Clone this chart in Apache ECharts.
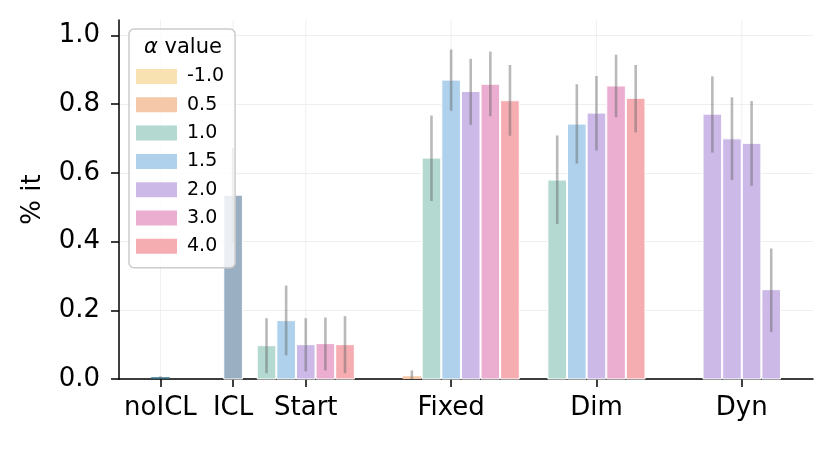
<!DOCTYPE html>
<html>
<head>
<meta charset="utf-8">
<script src="https://cdn.jsdelivr.net/npm/echarts@6/dist/echarts.min.js"></script>
<style>
html, body { margin: 0; padding: 0; background: #fff; }
#main { width: 832px; height: 476px; }
</style>
</head>
<body>
<div id="main"></div>
<script>
// groups on the x axis and where they sit
var groups = ['noICL', 'ICL', 'Start', 'Fixed', 'Dim', 'Dyn'];
var groupX = [0, 0.5, 1, 2, 3, 4];
var yTicks = [0, 0.2, 0.4, 0.6, 0.8, 1.0];

// alpha values (legend) and their colours
var alphas = ['-1.0', '0.5', '1.0', '1.5', '2.0', '3.0', '4.0'];
var alphaColors = ['#f8e2b2', '#f4c8a8', '#b4d9d0', '#afd1ec', '#cdb9e8', '#ebaed0', '#f5adb2'];

// baselines (not in legend)
var noiclMean = [0.005], noiclLow = [0.0], noiclHigh = [0.008];
var iclMean = [0.535], iclLow = [0.398], iclHigh = [0.672];

// per group: which alpha each bar belongs to, mean, error bar ends
var startAlpha = ['1.0', '1.5', '2.0', '3.0', '4.0'];
var startMean = [0.097, 0.170, 0.100, 0.103, 0.100];
var startLow = [0.017, 0.069, 0.022, 0.025, 0.017];
var startHigh = [0.177, 0.272, 0.177, 0.179, 0.183];

var fixedAlpha = ['-1.0', '0.5', '1.0', '1.5', '2.0', '3.0', '4.0'];
var fixedMean = [0.0, 0.008, 0.643, 0.870, 0.837, 0.858, 0.810];
var fixedLow = [0.0, 0.0, 0.518, 0.781, 0.740, 0.765, 0.708];
var fixedHigh = [0.0, 0.025, 0.767, 0.959, 0.932, 0.953, 0.914];

var dimAlpha = ['1.0', '1.5', '2.0', '3.0', '4.0'];
var dimMean = [0.579, 0.742, 0.774, 0.853, 0.817];
var dimLow = [0.451, 0.627, 0.665, 0.762, 0.718];
var dimHigh = [0.709, 0.858, 0.882, 0.944, 0.914];

var dynAlpha = ['2.0', '2.0', '2.0', '2.0'];
var dynMean = [0.771, 0.699, 0.686, 0.260];
var dynLow = [0.659, 0.579, 0.562, 0.137];
var dynHigh = [0.881, 0.820, 0.809, 0.380];

var BAR = 0.135; // bar step in x units
var YMAX = 1.045;

var groupBars = [
	{alpha: ['noICL'], mean: noiclMean, low: noiclLow, high: noiclHigh},
	{alpha: ['ICL'], mean: iclMean, low: iclLow, high: iclHigh},
	{alpha: startAlpha, mean: startMean, low: startLow, high: startHigh},
	{alpha: fixedAlpha, mean: fixedMean, low: fixedLow, high: fixedHigh},
	{alpha: dimAlpha, mean: dimMean, low: dimLow, high: dimHigh},
	{alpha: dynAlpha, mean: dynMean, low: dynLow, high: dynHigh}
];

// collect bars per series name
var barData = {};
var errData = [];
groupBars.forEach(function (g, gi) {
	var n = g.alpha.length;
	g.alpha.forEach(function (a, i) {
		var x = groupX[gi] + (i - (n - 1) / 2) * BAR;
		if (!barData[a]) barData[a] = [];
		barData[a].push([x, g.mean[i]]);
		errData.push([x, g.low[i], g.high[i]]);
	});
});

function barRender(params, api) {
	var x = api.value(0), y = api.value(1);
	var p0 = api.coord([x - BAR / 2, 0]);
	var p1 = api.coord([x + BAR / 2, y]);
	var h = p0[1] - p1[1];
	return {
		type: 'rect',
		shape: {x: p0[0] + 0.5, y: p1[1], width: p1[0] - p0[0] - 1, height: h},
		style: {fill: api.visual('color'), stroke: h > 3 ? '#ffffff' : null, lineWidth: 1}
	};
}

function errRender(params, api) {
	var x = api.value(0);
	var a = api.coord([x, api.value(1)]);
	var b = api.coord([x, api.value(2)]);
	return {
		type: 'line',
		shape: {x1: a[0], y1: a[1], x2: b[0], y2: b[1]},
		style: {stroke: 'rgba(100,100,100,0.45)', lineWidth: 2.6}
	};
}

// vertical grid lines at the group ticks
function vgridRender(params, api) {
	var x = api.value(0);
	var a = api.coord([x, 0]);
	var b = api.coord([x, YMAX]);
	return {
		type: 'line',
		shape: {x1: a[0], y1: a[1], x2: b[0], y2: b[1]},
		style: {stroke: '#efefef', lineWidth: 1}
	};
}

var series = [];
series.push({name: 'vgrid', type: 'custom', renderItem: vgridRender, data: groupX.map(function (v) { return [v]; }), z: 1, silent: true});
series.push({name: 'noICL', type: 'custom', renderItem: barRender, itemStyle: {color: '#2d6b80'}, data: barData['noICL'], z: 2});
series.push({name: 'ICL', type: 'custom', renderItem: barRender, itemStyle: {color: '#9aafc2'}, data: barData['ICL'], z: 2});
alphas.forEach(function (a, i) {
	series.push({name: a, type: 'custom', renderItem: barRender, itemStyle: {color: alphaColors[i]}, data: barData[a] || [], z: 2});
});
series.push({name: 'err', type: 'custom', renderItem: errRender, data: errData, z: 3});

var font = 'DejaVu Sans';
var myChar = echarts.init(document.getElementById('main'));
var option = {
	animation: false,
	backgroundColor: '#ffffff',
	textStyle: {fontFamily: font},
	grid: {left: 119, right: 19, top: 20, bottom: 97},
	title: {
		text: '{a|α} value',
		left: 139,
		top: 32,
		z: 10,
		textStyle: {
			fontFamily: font, fontSize: 21, fontWeight: 'normal', color: '#000',
			rich: {a: {fontFamily: font, fontSize: 21, fontStyle: 'italic', color: '#000'}}
		}
	},
	legend: {
		data: alphas,
		orient: 'vertical',
		left: 129,
		top: 29,
		padding: [38, 11, 12, 7],
		itemWidth: 41,
		itemHeight: 15,
		itemGap: 9.3,
		icon: 'rect',
		selectedMode: false,
		backgroundColor: 'rgba(255,255,255,0.8)',
		borderColor: '#cccccc',
		borderWidth: 1.5,
		borderRadius: 5,
		textStyle: {fontFamily: font, fontSize: 19, color: '#000', lineHeight: 18, padding: [0, 0, 0, 5]}
	},
	xAxis: {
		type: 'value',
		min: -0.285,
		max: 4.49,
		axisLine: {onZero: false, lineStyle: {color: '#000', width: 1.5}},
		axisTick: {customValues: groupX, length: 8, lineStyle: {color: '#000', width: 1.5}},
		axisLabel: {
			customValues: groupX,
			margin: 16,
			fontSize: 26,
			color: '#000',
			fontFamily: font,
			formatter: function (v) {
				var i = groupX.indexOf(v);
				return i >= 0 ? groups[i] : '';
			}
		},
		splitLine: {show: false}
	},
	yAxis: {
		type: 'value',
		min: 0,
		max: YMAX,
		name: '% it',
		nameLocation: 'middle',
		nameRotate: 90,
		nameGap: 73,
		nameTextStyle: {fontSize: 26, color: '#000', fontFamily: font},
		axisLine: {show: true, onZero: false, lineStyle: {color: '#000', width: 1.5}},
		axisTick: {show: true, customValues: yTicks, length: 8, lineStyle: {color: '#000', width: 1.5}},
		axisLabel: {
			customValues: yTicks,
			margin: 19,
			fontSize: 26,
			color: '#000',
			fontFamily: font,
			formatter: function (v) { return v.toFixed(1); }
		},
		splitLine: {show: true, lineStyle: {color: '#efefef', width: 1}}
	},
	series: series
};
myChar.setOption(option);
</script>
</body>
</html>
